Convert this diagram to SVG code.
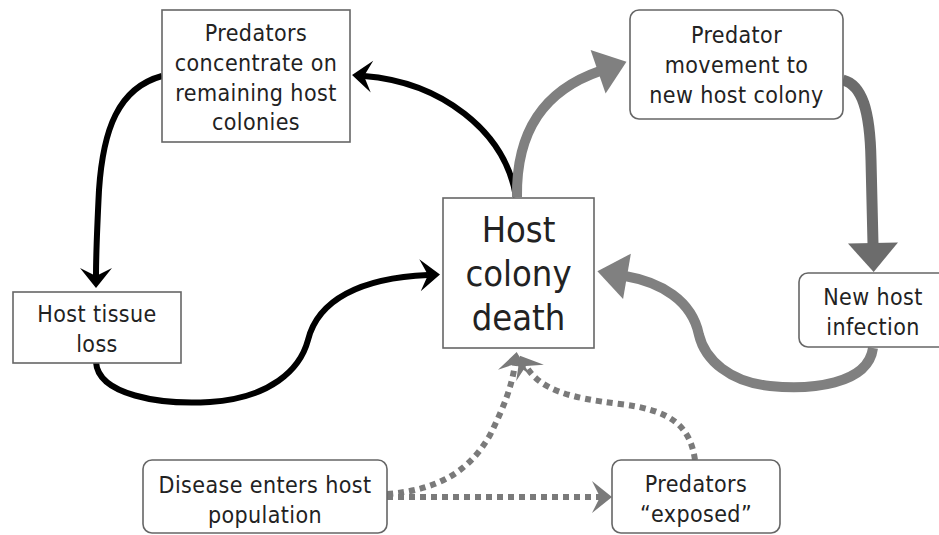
<svg xmlns="http://www.w3.org/2000/svg" width="939" height="535" viewBox="0 0 939 535">
<style>
.box{fill:#fff;stroke:#666;stroke-width:1.6}
.t{font-family:"DejaVu Sans Condensed","DejaVu Sans",sans-serif;font-size:23px;letter-spacing:0.4px;fill:#222;text-anchor:middle}
.big{font-size:36px;letter-spacing:0}
.blk{fill:none;stroke:#000;stroke-width:6;stroke-linecap:butt}
.gry{fill:none;stroke:#808080;stroke-width:10}
.dgry{fill:none;stroke:#6c6c6c;stroke-width:11}
.dot{fill:none;stroke:#7a7a7a;stroke-width:6;stroke-dasharray:6 5}
</style>
<defs>
<marker id="mb" markerUnits="userSpaceOnUse" markerWidth="40" markerHeight="40" refX="-12" refY="0" orient="auto" overflow="visible">
<path d="M0,0 L-20,-16 L-12,0 L-20,16 Z" fill="#000"/>
</marker>
<marker id="mg" markerUnits="userSpaceOnUse" markerWidth="60" markerHeight="60" refX="-28" refY="0" orient="auto" overflow="visible">
<path d="M0,0 L-30,-23 L-30,23 Z" fill="#808080"/>
</marker>
<marker id="mdg" markerUnits="userSpaceOnUse" markerWidth="60" markerHeight="60" refX="-28" refY="0" orient="auto" overflow="visible">
<path d="M0,0 L-29,-25 L-29,25 Z" fill="#6c6c6c"/>
</marker>
<marker id="md" markerUnits="userSpaceOnUse" markerWidth="40" markerHeight="40" refX="-12" refY="0" orient="auto" overflow="visible">
<path d="M0,0 L-20,-16 L-12,0 L-20,16 Z" fill="#7a7a7a"/>
</marker>
</defs>
<g id="connectors">
<path class="blk" d="M516,197 C 505,130 440,82 364,76" marker-end="url(#mb)"/>
<path class="blk" d="M162,76 C 118,88 103,130 99,190 C 97,230 96,255 96,276" marker-end="url(#mb)"/>
<path class="blk" d="M96,362 C 98,395 160,405 210,402 C 270,398 300,370 308,340 C 318,300 360,278 428,275" marker-end="url(#mb)"/>
<path class="gry" d="M517,197 C 516,130 545,90 600,71" marker-end="url(#mg)"/>
<path class="dgry" d="M843,80 C 862,85 870,110 871,160 L 873,244" marker-end="url(#mdg)"/>
<path class="gry" d="M873,348 C 868,385 810,390 770,386 C 730,382 705,360 699,335 C 692,300 660,282 625,276" marker-end="url(#mg)"/>
<path class="dot" d="M387,494 C 440,490 470,470 490,435 C 505,405 512,385 515,364" marker-end="url(#md)"/>
<path class="dot" d="M695,460 C 690,425 670,410 620,404 C 570,398 540,390 526,366" marker-end="url(#md)"/>
<path class="dot" d="M387,497 L 600,497" marker-end="url(#md)"/>
</g>
<g id="n-concentrate">
<rect class="box" x="162" y="10" width="188" height="132"/>
<text class="t" x="256" y="41">Predators</text>
<text class="t" x="256" y="71">concentrate on</text>
<text class="t" x="256" y="101">remaining host</text>
<text class="t" x="256" y="130">colonies</text>
</g>
<g id="n-movement">
<rect class="box" x="630" y="10" width="213" height="109" rx="9"/>
<text class="t" x="736.5" y="43">Predator</text>
<text class="t" x="736.5" y="73">movement to</text>
<text class="t" x="736.5" y="103">new host colony</text>
</g>
<g id="n-tissue">
<rect class="box" x="13" y="292" width="168" height="71"/>
<text class="t" x="97" y="322">Host tissue</text>
<text class="t" x="97" y="352">loss</text>
</g>
<g id="n-death">
<rect class="box" x="443" y="198" width="151" height="150"/>
<text class="t big" x="518.5" y="242">Host</text>
<text class="t big" x="518.5" y="286">colony</text>
<text class="t big" x="518.5" y="330">death</text>
</g>
<g id="n-infection">
<rect class="box" x="799" y="273" width="150" height="74" rx="9"/>
<text class="t" x="873" y="305">New host</text>
<text class="t" x="873" y="335">infection</text>
</g>
<g id="n-disease">
<rect class="box" x="143" y="460" width="244" height="73" rx="9"/>
<text class="t" x="265" y="493">Disease enters host</text>
<text class="t" x="265" y="523">population</text>
</g>
<g id="n-exposed">
<rect class="box" x="612" y="460" width="168" height="73" rx="9"/>
<text class="t" x="696" y="492">Predators</text>
<text class="t" x="696" y="522">“exposed”</text>
</g>
</svg>
